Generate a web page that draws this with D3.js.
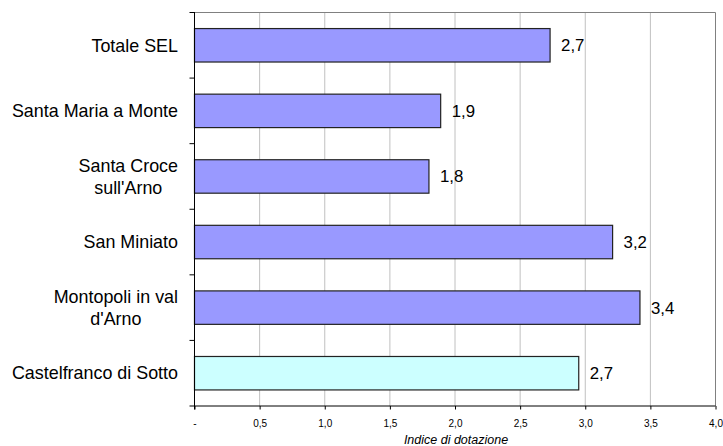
<!DOCTYPE html>
<html>
<head>
<meta charset="utf-8">
<script src="https://cdn.jsdelivr.net/npm/d3@7"></script>
<style>
  html, body { margin: 0; padding: 0; background: #fff; }
  svg { display: block; font-family: "Liberation Sans", Arial, sans-serif; }
</style>
</head>
<body>
<svg id="chart" width="723" height="446"></svg>
<script>
// Data
const categories = ["Totale SEL", "Santa Maria a Monte", "Santa Croce\nsull'Arno", "San Miniato", "Montopoli in val\nd'Arno", "Castelfranco di Sotto"];
const values = [2.73, 1.89, 1.80, 3.21, 3.42, 2.95];
const valueLabels = ["2,7", "1,9", "1,8", "3,2", "3,4", "2,7"];
const highlight = [false, false, false, false, false, true];
const xTicks = [0, 0.5, 1.0, 1.5, 2.0, 2.5, 3.0, 3.5, 4.0];
const xTickLabels = ["-", "0,5", "1,0", "1,5", "2,0", "2,5", "3,0", "3,5", "4,0"];
const xTitle = "Indice di dotazione";

const margin = { left: 194.5, top: 12.5 };
const plotRight = 715.5, plotBottom = 406;

const svg = d3.select("#chart");

const x = d3.scaleLinear().domain([0, 4]).range([margin.left, plotRight]);
const y = d3.scaleBand().domain(categories).range([margin.top, plotBottom]).paddingInner(0.49).paddingOuter(0.245);
const yOuter = d3.scaleBand().domain(categories).range([margin.top, plotBottom]);

// Gridlines
svg.append("g").selectAll("line").data(xTicks.slice(1, -1)).join("line")
  .attr("x1", d => x(d)).attr("x2", d => x(d))
  .attr("y1", margin.top).attr("y2", plotBottom)
  .attr("stroke", "#c0c0c0").attr("stroke-width", 1);

// Plot border (top/right)
svg.append("path")
  .attr("d", `M${margin.left},${margin.top}H${plotRight}V${plotBottom}`)
  .attr("fill", "none").attr("stroke", "#808080").attr("stroke-width", 1);

// Bars
svg.append("g").selectAll("rect").data(categories).join("rect")
  .attr("x", x(0))
  .attr("y", d => y(d))
  .attr("width", (d, i) => x(values[i]) - x(0))
  .attr("height", y.bandwidth())
  .attr("fill", (d, i) => highlight[i] ? "#ccffff" : "#9999ff")
  .attr("stroke", "#222")
  .attr("stroke-width", 1.2);

// Value labels
svg.append("g").selectAll("text").data(categories).join("text")
  .attr("x", (d, i) => x(values[i]) + 11)
  .attr("y", d => y(d) + y.bandwidth() / 2)
  .attr("dy", "0.35em")
  .attr("font-size", "16.8px")
  .attr("fill", "#000")
  .text((d, i) => valueLabels[i]);

// X axis
const xAxis = d3.axisBottom(x).tickValues(xTicks).tickSize(3.5).tickPadding(10)
  .tickFormat((d, i) => xTickLabels[i]);
const gx = svg.append("g").attr("transform", `translate(0,${plotBottom})`).call(xAxis);
gx.select(".domain").attr("stroke", "#000").attr("d", `M${margin.left},0H${plotRight}`);
gx.selectAll(".tick line").attr("stroke", "#000");
gx.selectAll(".tick text").attr("font-size", "10px").attr("fill", "#000")
  .attr("font-family", "'Liberation Sans', Arial, sans-serif");

// Y axis (ticks at band boundaries)
const bounds = categories.map(c => yOuter(c)).concat([plotBottom]);
svg.append("line").attr("x1", margin.left).attr("x2", margin.left)
  .attr("y1", margin.top - 0.5).attr("y2", plotBottom + 3.5).attr("stroke", "#000");
svg.append("g").selectAll("line").data(bounds).join("line")
  .attr("x1", margin.left - 5).attr("x2", margin.left)
  .attr("y1", d => d).attr("y2", d => d).attr("stroke", "#000");

// Category labels (multi-line, centered lines, block right-aligned)
const labelRight = 178;
const lineH = 22;
const gl = svg.append("g");
categories.forEach(c => {
  const lines = c.split("\n");
  const t = gl.append("text").attr("font-size", "17.9px").attr("fill", "#000").attr("text-anchor", "middle");
  const cy = yOuter(c) + yOuter.bandwidth() / 2;
  lines.forEach((ln, k) => {
    t.append("tspan").attr("y", cy + (k - (lines.length - 1) / 2) * lineH).attr("dy", "0.35em").text(ln);
  });
  let maxW = 0;
  t.selectAll("tspan").each(function() { maxW = Math.max(maxW, this.getComputedTextLength()); });
  t.selectAll("tspan").attr("x", labelRight - maxW / 2);
});

// X title
svg.append("text")
  .attr("x", 456).attr("y", 443.5)
  .attr("text-anchor", "middle")
  .attr("font-size", "12.5px")
  .attr("font-style", "italic")
  .attr("fill", "#000")
  .text(xTitle);
</script>
</body>
</html>
